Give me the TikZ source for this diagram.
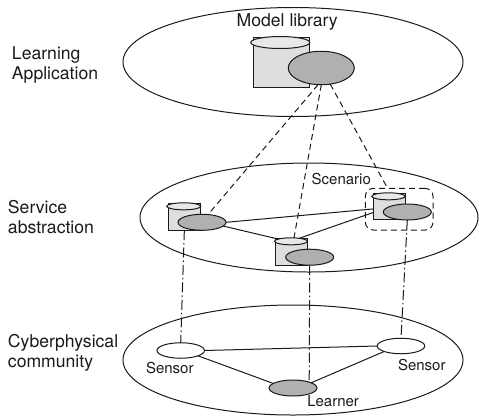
\documentclass[tikz,border=0pt]{standalone}
\usepackage{fontspec}
\setmainfont{TeX Gyre Heros}
\usetikzlibrary{shapes.geometric}
\definecolor{bodyfill}{HTML}{DEDEDE}
\definecolor{lidfill}{HTML}{E8E8E8}
\definecolor{darkfill}{HTML}{B0B0B0}
\definecolor{inkline}{HTML}{1A1A1A}
\tikzset{
  every node/.style={inner sep=0pt,outer sep=0pt},
  layer/.style={draw,ellipse,minimum width=#1,minimum height=109pt},
  body/.style={draw,rectangle,fill=bodyfill},
  lid/.style={draw,ellipse,fill=lidfill},
  grayoval/.style={draw,ellipse,fill=darkfill,minimum width=48pt,minimum height=16pt},
  whiteoval/.style={draw,ellipse,fill=white,minimum width=47.5pt,minimum height=15.5pt},
  biglabel/.style={font=\fontsize{17.6}{20}\selectfont,align=left,anchor=base west,text=inkline},
  smalllabel/.style={font=\fontsize{15}{18}\selectfont,anchor=base west,text=inkline},
  dashline/.style={dash pattern=on 6pt off 4pt},
  dotline/.style={dash pattern=on 10pt off 3pt on 1.5pt off 3pt},
}
\begin{document}
\begin{tikzpicture}[x=1pt,y=-1pt,line width=1pt,draw=inkline]
\useasboundingbox (0,0) rectangle (479,416);
% layers
\node[layer=340pt] (top) at (293,62) {};
\node[layer=338pt] (mid) at (309,217.5) {};
\node[layer=340pt,minimum height=110pt] (low) at (293,360) {};
% model library
\node[body,minimum width=56pt,minimum height=50.5pt] (libbody) at (281.6,62.7) {};
\node[lid,minimum width=59pt,minimum height=12pt] (liblid) at (280.2,42.5) {};
\node[grayoval,minimum width=66pt,minimum height=33.5pt] (libmodel) at (321.3,68) {};
% service left
\node[body,minimum width=32.7pt,minimum height=27pt] (abody) at (184.35,216.5) {};
\node[lid,minimum width=34pt,minimum height=7pt] (alid) at (183.7,206.3) {};
\node[grayoval] (amodel) at (202,222.3) {};
% service centre
\node[body,minimum width=32pt,minimum height=26.3pt] (bbody) at (291.3,251.9) {};
\node[lid,minimum width=33pt,minimum height=7pt] (blid) at (291,241.3) {};
\node[grayoval] (bmodel) at (309.7,257.2) {};
% service right
\node[body,minimum width=31.7pt,minimum height=26pt] (cbody) at (389.15,206.7) {};
\node[lid,minimum width=33.3pt,minimum height=7pt] (clid) at (388.4,196.3) {};
\node[grayoval] (cmodel) at (407.3,212) {};
\node[draw,rectangle,rounded corners=8pt,dashline,minimum width=67.7pt,minimum height=41.7pt] (scen) at (399.2,209.2) {};
% community
\node[whiteoval] (sensl) at (180.7,350.5) {};
\node[whiteoval] (sensr) at (401,346) {};
\node[grayoval] (learn) at (293,388) {};
% labels
\node[biglabel] (lapp) at (12,79) {Learning\\Application};
\node[biglabel] (lsvc) at (8,233.3) {Service\\abstraction};
\node[biglabel] (lcom) at (8,367.3) {Cyberphysical\\community};
\node[biglabel] (lmod) at (236.7,26.7) {Model library};
\node[smalllabel] (lscen) at (311.7,184) {Scenario};
\node[smalllabel] (lsl) at (146,373.3) {Sensor};
\node[smalllabel] (lsr) at (398,370) {Sensor};
\node[smalllabel] (llearn) at (307.3,406.7) {Learner};
% dashed
\draw[dashline] (libmodel.-101) -- (amodel.52);
\draw[dashline] (libmodel.-90) -- (blid.49);
\draw[dashline] (libmodel.-61) -- (scen.119.7);
% dash-dot
\draw[dotline] (abody.south) -- (sensl.north);
\draw[dotline] (bmodel.south) -- (learn.20.9);
\draw[dotline] (cmodel.south) -- (sensr.north);
% service links
\draw (amodel.east) -- (cbody.188.3);
\draw (amodel.-10.5) -- (blid.170);
\draw (blid.20.9) -- (cbody.200.7);
% community links
\draw (sensl.east) -- (sensr.west);
\draw (sensl.-17) -- (learn.167);
\draw (learn.16.8) -- (sensr.198);
\end{tikzpicture}
\end{document}
